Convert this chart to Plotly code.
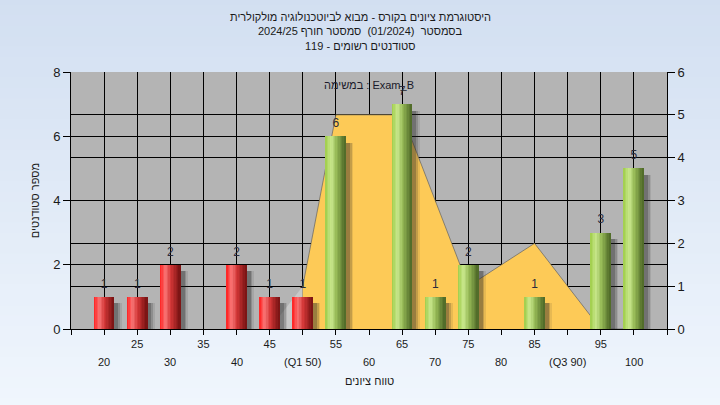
import plotly.graph_objects as go

# ---------------- data ----------------
grades = [20, 25, 30, 35, 40, 45, 50, 55, 60, 65, 70, 75, 80, 85, 90, 95, 100]
counts = [1, 1, 2, 0, 2, 1, 1, 6, 0, 7, 1, 2, 0, 1, 0, 3, 5]
pass_mark = 55

curve_x = [45, 50, 55, 60, 65, 70, 75, 80, 85, 90, 95, 100]
curve_y = [0, 1, 5, 5, 5, 3, 1, 1.5, 2, 1, 0, 0]

row1_vals = [25, 35, 45, 55, 65, 75, 85, 95]
row1_text = ["25", "35", "45", "55", "65", "75", "85", "95"]
row2_vals = [20, 30, 40, 50, 60, 70, 80, 90, 100]
row2_text = ["20", "30", "40", "(Q1 50)", "60", "70", "80", "(Q3 90)", "100"]

title_lines = [
    "היסטוגרמת ציונים בקורס - מבוא לביוטכנולוגיה מולקולרית",
    "בסמסטר  (01/2024)  סמסטר חורף 2024/25",
    "סטודנטים רשומים - 119",
]
exam_label = "במשימה : Exam_B"
y_title = "מספר סטודנטים"
x_title = "טווח ציונים"

FONT = "Liberation Sans, Arial, sans-serif"

# ---------------- styling helpers ----------------
red_stops = [(0.0, (255, 30, 30)), (0.28, (248, 118, 118)), (0.55, (210, 54, 54)), (1.0, (118, 18, 18))]
green_stops = [(0.0, (158, 204, 72)), (0.28, (202, 232, 142)), (0.55, (150, 186, 86)), (1.0, (76, 102, 38))]


def interp(stops, t):
    for (t0, c0), (t1, c1) in zip(stops[:-1], stops[1:]):
        if t0 <= t <= t1:
            f = (t - t0) / (t1 - t0)
            c = [round(a + (b - a) * f) for a, b in zip(c0, c1)]
            return "rgb(%d,%d,%d)" % tuple(c)
    c = stops[-1][1]
    return "rgb(%d,%d,%d)" % c


fig = go.Figure()

# distribution area (right axis)
fig.add_trace(go.Scatter(x=curve_x[:2], y=curve_y[:2], fill="tozeroy", fillcolor="#c8c8c8",
                         mode="lines", line=dict(width=0), hoverinfo="skip", showlegend=False))
fig.add_trace(go.Scatter(x=curve_x[1:], y=curve_y[1:], fill="tozeroy", fillcolor="#fdca57",
                         mode="lines", line=dict(color="rgba(95,95,95,0.85)", width=0.8),
                         hoverinfo="skip", showlegend=False))

bar_w = 3.0
# soft shadows
shadow_h = [max(c - 0.2, 0) for c in counts]
for dx, a in [(1.15, 0.10), (0.9, 0.18), (0.65, 0.26)]:
    fig.add_trace(go.Bar(x=grades, y=shadow_h, width=bar_w, offset=-bar_w / 2 + dx,
                         marker=dict(color="rgba(35,35,35,%.2f)" % a, line=dict(width=0)),
                         yaxis="y2", hoverinfo="skip", showlegend=False))

# cylinder-like gradient bars
n = 14
sw = bar_w / n
for i in range(n):
    t = (i + 0.5) / n
    cols = [interp(red_stops if g < pass_mark else green_stops, t) for g in grades]
    fig.add_trace(go.Bar(x=grades, y=counts, width=sw * 1.25, offset=-bar_w / 2 + i * sw,
                         marker=dict(color=cols, line=dict(width=0)),
                         yaxis="y2", hoverinfo="skip", showlegend=False))

# value labels
lab_x = [g for g, c in zip(grades, counts) if c > 0]
lab_v = [c for c in counts if c > 0]
lab_y = [c + 0.38 for c in lab_v]
fig.add_trace(go.Scatter(x=lab_x, y=lab_y, text=[str(v) for v in lab_v], mode="text",
                         textposition="middle center",
                         textfont=dict(family=FONT, size=12, color="#2b2b3c"),
                         yaxis="y2", hoverinfo="skip", showlegend=False, cliponaxis=False))

# ---------------- layout ----------------
tickvals = list(range(15, 106, 5))
ticktext = [row1_text[row1_vals.index(v)] if v in row1_vals else "" for v in tickvals]

shapes = []
nb = 40
y_lo, y_hi = -0.31, 1.30
top_c, bot_c = (210, 223, 241), (240, 246, 253)
for k in range(nb):
    f = k / (nb - 1)
    c = tuple(round(bot_c[j] + (top_c[j] - bot_c[j]) * f) for j in range(3))
    y0 = y_lo + (y_hi - y_lo) * k / nb
    y1 = y_lo + (y_hi - y_lo) * (k + 1) / nb + 0.002
    shapes.append(dict(type="rect", xref="paper", yref="paper", x0=-0.13, x1=1.1, y0=y0, y1=y1,
                       fillcolor="rgb(%d,%d,%d)" % c, line=dict(width=0), layer="below"))
shapes.append(dict(type="rect", xref="paper", yref="paper", x0=0, x1=1, y0=0, y1=1,
                   fillcolor="#b4b4b4", line=dict(width=0), layer="below"))

annotations = []
for line, yy in zip(title_lines, [1.213, 1.158, 1.103]):
    annotations.append(dict(text=line, xref="paper", yref="paper", x=0.485, y=yy,
                            showarrow=False, xanchor="center", yanchor="middle",
                            font=dict(family=FONT, size=11, color="#1a1a1a")))
for v, t in zip(row2_vals, row2_text):
    annotations.append(dict(text=t, xref="x", yref="paper", x=v, y=-0.128, showarrow=False,
                            xanchor="center", yanchor="middle",
                            font=dict(family=FONT, size=11, color="#1a1a1a")))
annotations.append(dict(text=exam_label, xref="paper", yref="paper", x=0.5, y=0.949,
                        showarrow=False, xanchor="center", yanchor="middle",
                        font=dict(family=FONT, size=11, color="#1a1a2a")))
annotations.append(dict(text=y_title, xref="paper", yref="paper", x=-0.061, y=0.5, textangle=-90,
                        showarrow=False, xanchor="center", yanchor="middle",
                        font=dict(family=FONT, size=11, color="#1a1a1a")))
annotations.append(dict(text=x_title, xref="paper", yref="paper", x=0.5, y=-0.203,
                        showarrow=False, xanchor="center", yanchor="middle",
                        font=dict(family=FONT, size=11, color="#1a1a1a")))

fig.update_layout(
    width=720, height=405,
    margin=dict(l=71, r=53, t=72, b=76),
    paper_bgcolor="#e4ecf7",
    plot_bgcolor="#b4b4b4",
    barmode="overlay",
    bargap=0,
    showlegend=False,
    shapes=shapes,
    annotations=annotations,
    xaxis=dict(range=[15, 105], tickmode="array", tickvals=tickvals, ticktext=ticktext,
               ticks="outside", ticklen=5, tickcolor="black", tickwidth=1,
               showgrid=True, gridcolor="black", gridwidth=1,
               showline=True, linecolor="black", linewidth=1, zeroline=False,
               tickfont=dict(family=FONT, size=11, color="#1a1a1a"), fixedrange=True),
    yaxis=dict(range=[0, 6], dtick=1, side="right", ticks="outside", ticklen=7, tickcolor="black",
               showgrid=True, gridcolor="black", gridwidth=1,
               showline=True, linecolor="black", linewidth=1, zeroline=False,
               tickfont=dict(family=FONT, size=13, color="#1a1a1a")),
    yaxis2=dict(range=[0, 8], dtick=2, side="left", overlaying="y", ticks="outside", ticklen=7,
                tickcolor="black", showgrid=True, gridcolor="black", gridwidth=1,
                showline=True, linecolor="black", linewidth=1, zeroline=False,
                tickfont=dict(family=FONT, size=13, color="#1a1a1a")),
)

fig.write_html("out.html", config={"displayModeBar": False},
               post_script="document.body.style.margin='0px';document.body.style.overflow='hidden';")
